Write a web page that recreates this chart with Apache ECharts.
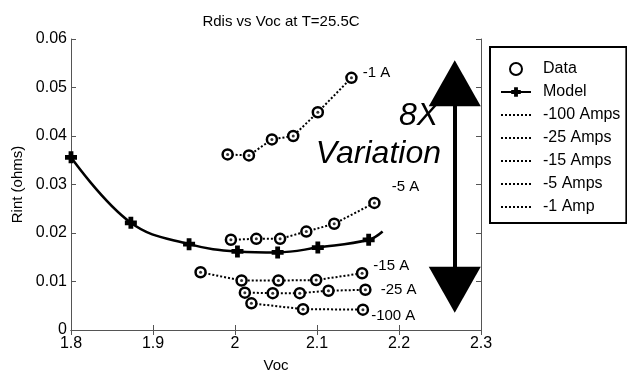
<!DOCTYPE html>
<html>
<head>
<meta charset="utf-8">
<script src="https://cdn.jsdelivr.net/npm/echarts@6/dist/echarts.min.js"></script>
<style>
  html, body { margin: 0; padding: 0; background: #fff; }
  #chart { width: 627px; height: 378px; }
</style>
</head>
<body>
<div id="chart"></div>
<script>
// measured points, Voc vs Rint for each discharge current
var voc100 = [2.020, 2.083, 2.156]
var rint100 = [0.0055, 0.0043, 0.0042]
var voc25 = [2.012, 2.046, 2.079, 2.114, 2.159]
var rint25 = [0.0077, 0.0076, 0.0076, 0.0081, 0.0083]
var voc15 = [1.958, 2.008, 2.053, 2.099, 2.155]
var rint15 = [0.0119, 0.0102, 0.0102, 0.0103, 0.0117]
var voc5 = [1.995, 2.026, 2.055, 2.087, 2.121, 2.170]
var rint5 = [0.0186, 0.0188, 0.0188, 0.0203, 0.0219, 0.0262]
var voc1 = [1.991, 2.017, 2.045, 2.071, 2.101, 2.142]
var rint1 = [0.0362, 0.0360, 0.0393, 0.0400, 0.0449, 0.0520]

// model curve (last point has no marker)
var modelVoc = [1.800, 1.873, 1.944, 2.003, 2.052, 2.101, 2.163, 2.180]
var modelRint = [0.0356, 0.0221, 0.0177, 0.0162, 0.0160, 0.0170, 0.0186, 0.0203]

var seriesNames = ['-100 Amps', '-25 Amps', '-15 Amps', '-5 Amps', '-1 Amp']
var pointLabels = ['-100 A', '-25 A', '-15 A', '-5 A', '-1 A']

var font = 'Liberation Sans, Arial, Helvetica, sans-serif'
var vocSets = [voc100, voc25, voc15, voc5, voc1]
var rintSets = [rint100, rint25, rint15, rint5, rint1]
var labelOffsets = [[-3, 6], [4, 0], [0, -7], [6, -16], [0, -5]]
var plusPath = 'path://M3,0H7V3H10V7H7V10H3V7H0V3H3Z'

function pairs (xs, ys) {
  return xs.map(function (x, i) { return [x, ys[i]] })
}

var dataPoints = []
var dotPoints = []
var lineSeries = []
vocSets.forEach(function (xs, k) {
  var ys = rintSets[k]
  xs.forEach(function (x, i) {
    dotPoints.push([x, ys[i]])
    if (i === xs.length - 1) {
      dataPoints.push({
        value: [x, ys[i]],
        label: {
          show: true,
          position: 'right',
          formatter: pointLabels[k],
          offset: labelOffsets[k],
          color: '#000',
          fontSize: 15,
          fontFamily: font
        }
      })
    } else {
      dataPoints.push([x, ys[i]])
    }
  })
  lineSeries.push({
    name: seriesNames[k],
    type: 'line',
    symbol: 'none',
    data: pairs(xs, ys),
    lineStyle: { color: '#000', width: 2, type: [2, 2] },
    itemStyle: { color: '#000' },
    z: 2
  })
})

var modelData = pairs(modelVoc, modelRint).map(function (p, i) {
  return i === modelVoc.length - 1 ? { value: p, symbol: 'none' } : p
})

// legend entries: dotted series show only their line
var legendData = ['Data', 'Model'].concat(seriesNames.map(function (n) {
  return { name: n, itemStyle: { color: 'transparent', borderWidth: 0 } }
}))

var axisColor = '#555'
var option = {
  animation: false,
  backgroundColor: '#fff',
  textStyle: { fontFamily: font },
  title: {
    text: 'Rdis vs Voc at T=25.5C',
    left: 276,
    textAlign: 'center',
    top: 9,
    textStyle: { fontSize: 15, fontWeight: 'normal', color: '#000', fontFamily: font }
  },
  legend: {
    orient: 'vertical',
    left: 490,
    top: 47,
    padding: [14, 6, 8, 10],
    itemWidth: 30,
    itemHeight: 12,
    itemGap: 7,
    borderColor: '#000',
    borderWidth: 2,
    backgroundColor: '#fff',
    textStyle: { fontSize: 16, color: '#000', fontFamily: font, padding: [0, 0, 0, 7] },
    data: legendData
  },
  grid: { left: 71, right: 146, top: 39, bottom: 46 },
  xAxis: [
    {
      type: 'value',
      min: 1.8,
      max: 2.3,
      interval: 0.1,
      name: 'Voc',
      nameLocation: 'middle',
      nameGap: 28,
      nameTextStyle: { fontSize: 15, color: '#000' },
      axisLine: { lineStyle: { color: axisColor } },
      axisTick: { inside: true, length: 5, lineStyle: { color: axisColor } },
      axisLabel: {
        fontSize: 16,
        color: '#000',
        margin: 6,
        formatter: function (v) { return String(+v.toFixed(2)) }
      },
      splitLine: { show: false }
    },
    {
      type: 'value',
      position: 'top',
      min: 1.8,
      max: 2.3,
      interval: 0.1,
      axisLine: { lineStyle: { color: axisColor } },
      axisTick: { inside: true, length: 5, lineStyle: { color: axisColor } },
      axisLabel: { show: false },
      splitLine: { show: false }
    }
  ],
  yAxis: [
    {
      type: 'value',
      min: 0,
      max: 0.06,
      interval: 0.01,
      name: 'Rint (ohms)',
      nameLocation: 'middle',
      nameGap: 41,
      nameTextStyle: { fontSize: 15, color: '#000' },
      axisLine: { lineStyle: { color: axisColor } },
      axisTick: { inside: true, length: 5, lineStyle: { color: axisColor } },
      axisLabel: {
        fontSize: 16,
        color: '#000',
        margin: 4,
        formatter: function (v) { return String(+v.toFixed(2)) }
      },
      splitLine: { show: false }
    },
    {
      type: 'value',
      position: 'right',
      min: 0,
      max: 0.06,
      interval: 0.01,
      axisLine: { lineStyle: { color: axisColor } },
      axisTick: { inside: true, length: 5, lineStyle: { color: axisColor } },
      axisLabel: { show: false },
      splitLine: { show: false }
    }
  ],
  series: [
    {
      name: 'Data',
      type: 'scatter',
      symbol: 'circle',
      symbolSize: 10,
      itemStyle: { color: '#fff', borderColor: '#000', borderWidth: 2.5, opacity: 1 },
      data: dataPoints,
      z: 4
    },
    {
      name: 'Model',
      type: 'line',
      smooth: 0.4,
      symbol: plusPath,
      symbolSize: 12,
      showAllSymbol: true,
      lineStyle: { color: '#000', width: 2.5 },
      itemStyle: { color: '#000' },
      data: modelData,
      z: 3
    }
  ].concat(lineSeries).concat([
    {
      name: 'dots',
      type: 'scatter',
      symbol: 'circle',
      symbolSize: 3,
      itemStyle: { color: '#000' },
      data: dotPoints,
      silent: true,
      z: 5
    },
    {
      name: 'annot',
      type: 'line',
      data: [],
      markLine: {
        silent: true,
        symbol: ['triangle', 'triangle'],
        symbolSize: [52, 46],
        label: { show: false },
        lineStyle: { color: '#000', width: 4, type: 'solid' },
        data: [[{ coord: [2.268, 0.0509] }, { coord: [2.268, 0.0083] }]]
      },
      markPoint: {
        silent: true,
        symbolSize: 0,
        label: {
          show: true,
          position: 'left',
          distance: 0,
          color: '#000',
          fontSize: 32,
          fontStyle: 'italic',
          fontFamily: font
        },
        data: [
          { coord: [2.2476, 0.0442], value: '8X', label: { formatter: '8X' } },
          { coord: [2.2512, 0.0362], value: 'Variation', label: { formatter: 'Variation' } }
        ]
      }
    }
  ])
}

var chart = echarts.init(document.getElementById('chart'))
chart.setOption(option)
</script>
</body>
</html>
